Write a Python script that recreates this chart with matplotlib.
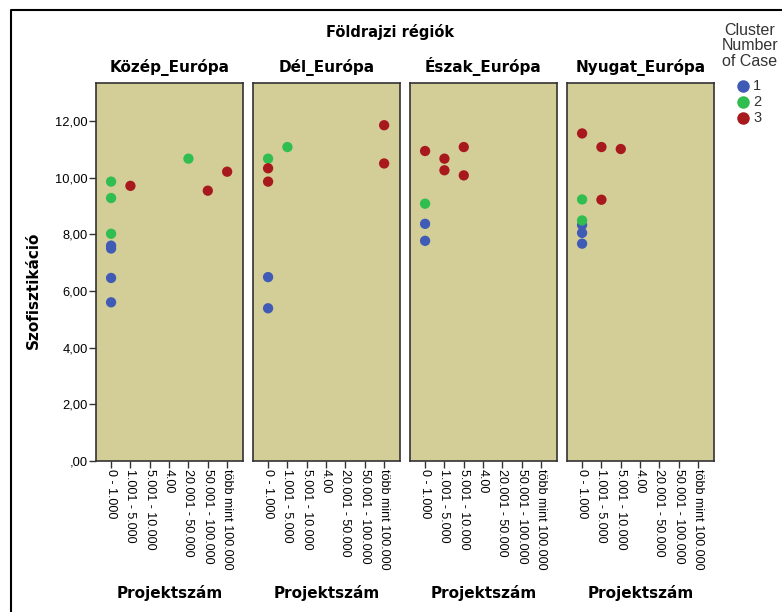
import matplotlib.pyplot as plt
from matplotlib.lines import Line2D

plt.rcParams['font.family'] = ['Liberation Sans', 'DejaVu Sans']
BOLD = ['DejaVu Sans']

# Adatok
regiok = ["Közép_Európa", "Dél_Európa", "Észak_Európa", "Nyugat_Európa"]
kategoriak = ["0 - 1.000", "1.001 - 5.000", "5.001 - 10.000", "4.00",
              "20.001 - 50.000", "50.001 - 100.000", "több mint 100.000"]
ytick_vals = [0, 2, 4, 6, 8, 10, 12]
ytick_labels = [",00", "2,00", "4,00", "6,00", "8,00", "10,00", "12,00"]

# Közép_Európa
kozep_kat = [0, 0, 0, 0, 0, 0, 0, 1, 4, 5, 6]
kozep_ert = [9.86, 9.28, 8.02, 7.60, 7.50, 6.46, 5.60, 9.71, 10.67, 9.54, 10.21]
kozep_clu = [2, 2, 2, 1, 1, 1, 1, 3, 2, 3, 3]

# Dél_Európa
del_kat = [0, 0, 0, 0, 0, 1, 6, 6]
del_ert = [10.67, 10.33, 9.86, 6.49, 5.39, 11.08, 11.85, 10.50]
del_clu = [2, 3, 3, 1, 1, 2, 3, 3]

# Észak_Európa
eszak_kat = [0, 0, 0, 0, 1, 1, 2, 2]
eszak_ert = [10.94, 9.08, 8.37, 7.77, 10.67, 10.26, 11.08, 10.08]
eszak_clu = [3, 2, 1, 1, 3, 3, 3, 3]

# Nyugat_Európa
nyugat_kat = [0, 0, 0, 0, 0, 0, 1, 1, 2]
nyugat_ert = [11.56, 9.23, 8.49, 8.33, 8.05, 7.67, 11.08, 9.22, 11.01]
nyugat_clu = [3, 2, 2, 1, 1, 1, 3, 3, 3]

szinek = {1: "#3f5bb5", 2: "#2fbe4f", 3: "#a8191e"}

adatok = [(kozep_kat, kozep_ert, kozep_clu), (del_kat, del_ert, del_clu),
          (eszak_kat, eszak_ert, eszak_clu), (nyugat_kat, nyugat_ert, nyugat_clu)]

W, H = 782, 612
fig = plt.figure(figsize=(W / 100, H / 100), dpi=100)

lefts = [96, 253, 410, 567]
pw, top, bottom = 147, 83, 461

for i, (nev, (kat, ert, clu)) in enumerate(zip(regiok, adatok)):
    ax = fig.add_axes([lefts[i] / W, 1 - bottom / H, pw / W, (bottom - top) / H])
    ax.set_facecolor("#d3ce98")
    for c in [1, 2, 3]:
        xs = [k for k, cl in zip(kat, clu) if cl == c]
        ys = [v for v, cl in zip(ert, clu) if cl == c]
        ax.scatter(xs, ys, s=55, color=szinek[c], edgecolors="none", zorder=3)
    ax.set_xlim(-0.78, 6.82)
    ax.set_ylim(0, 13.34)
    ax.set_xticks(range(len(kategoriak)))
    ax.set_xticklabels(kategoriak, rotation=270, fontsize=9, va="top", ha="center")
    ax.tick_params(axis="x", length=5, width=1, pad=1, color="#333333")
    if i == 0:
        ax.set_yticks(ytick_vals)
        ax.set_yticklabels(ytick_labels, fontsize=9.3)
        ax.tick_params(axis="y", length=5, width=1, pad=1, color="#333333")
    else:
        ax.set_yticks([])
    for s in ax.spines.values():
        s.set_color("#333333")
        s.set_linewidth(1.2)
    ax.set_title(nev, fontsize=11, fontweight="bold", family=BOLD, pad=8)
    fig.text((lefts[i] + pw / 2) / W, 1 - 593 / H, "Projektszám", family=BOLD,
             fontsize=11, fontweight="bold", ha="center", va="center")

fig.text(390 / W, 1 - 32 / H, "Földrajzi régiók", fontsize=10.5, family=BOLD,
         fontweight="bold", ha="center", va="center")
fig.text(33 / W, 1 - 290 / H, "Szofisztikáció", fontsize=11, fontweight="bold",
         family=BOLD, rotation=90, ha="center", va="center")

# Jelmagyarázat
fig.text(750 / W, 1 - 46 / H, "Cluster\nNumber\nof Case", fontsize=11.5,
         color="#333333", ha="center", va="center", linespacing=1.05)
for j, c in enumerate([1, 2, 3]):
    y = 1 - (86 + 16 * j) / H
    fig.add_artist(Line2D([743 / W], [y], marker="o", markersize=9,
                          color=szinek[c], markeredgecolor="none",
                          transform=fig.transFigure))
    fig.text(753 / W, y, str(c), fontsize=10.5, color="#333333", va="center")

# Keret
fig.add_artist(Line2D([11 / W, 11 / W, 1], [0, 1 - 10 / H, 1 - 10 / H],
                      color="black", linewidth=1.5, transform=fig.transFigure))

fig.savefig("out.png", dpi=100)
